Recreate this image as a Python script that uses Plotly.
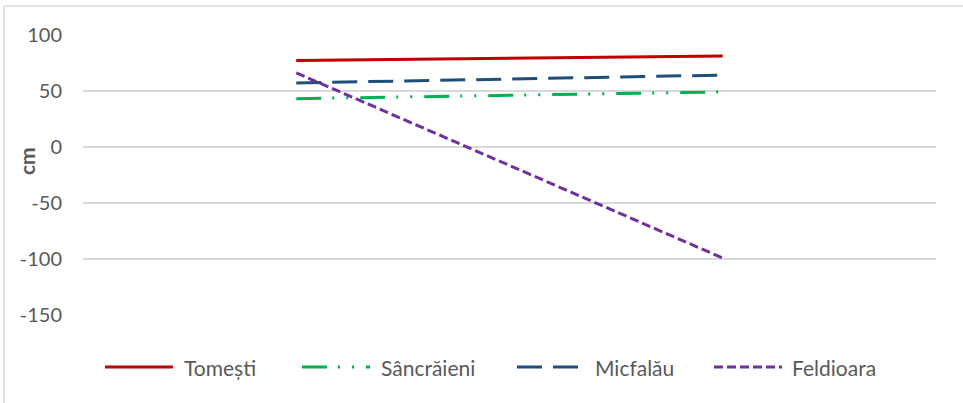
import plotly.graph_objects as go

# Two measurement dates on the category axis (labels not shown)
periods = ["start", "end"]

# Level change per site, in cm
tomesti = [77, 81]
sancraieni = [43, 49]
micfalau = [57, 64]
feldioara = [66, -99]

series_names = ["Tomești", "Sâncrăieni", "Micfalău", "Feldioara"]
series_values = [tomesti, sancraieni, micfalau, feldioara]
series_colors = ["#C00000", "#00B050", "#1F4E79", "#7030A0"]
series_dashes = [
    "solid",
    "25px,11px,2px,12px,2px,12px",
    "25px,11px",
    "9px,4px",
]

y_ticks = [100, 50, 0, -50, -100, -150]

W, H = 963, 403
M_L, M_R, M_T, M_B = 83, 27, 34, 87
PLOT_W = W - M_L - M_R
PLOT_H = H - M_T - M_B
TEXT_GREY = "#595959"
FONT = "Lato"


def px_to_paper_x(px):
    return (px - M_L) / PLOT_W


def px_to_paper_y(py):
    return (H - M_B - py) / PLOT_H


fig = go.Figure()
for name, vals, color, dash in zip(series_names, series_values, series_colors, series_dashes):
    fig.add_trace(
        go.Scatter(
            x=periods,
            y=vals,
            name=name,
            mode="lines",
            line=dict(color=color, width=3, dash=dash),
            showlegend=False,
            hoverinfo="name+y",
        )
    )

# Legend drawn along the bottom: sample line + label for each series
legend_line_x = [105, 302, 517, 714]
legend_text_x = [182, 379, 593, 790]
legend_line_len = 68
legend_y = 367
shapes = []
annotations = []
for name, color, dash, lx, tx in zip(series_names, series_colors, series_dashes, legend_line_x, legend_text_x):
    shapes.append(
        dict(
            type="line",
            xref="paper",
            yref="paper",
            x0=px_to_paper_x(lx),
            x1=px_to_paper_x(lx + legend_line_len),
            y0=px_to_paper_y(legend_y),
            y1=px_to_paper_y(legend_y),
            line=dict(color=color, width=3, dash=dash),
        )
    )
    annotations.append(
        dict(
            text=name,
            xref="paper",
            yref="paper",
            x=px_to_paper_x(tx),
            y=px_to_paper_y(legend_y),
            xanchor="left",
            yanchor="middle",
            showarrow=False,
            font=dict(family=FONT, size=21, color=TEXT_GREY),
        )
    )

# Chart frame (left and top edges)
frame_color = "#D9D9D9"
shapes.append(
    dict(type="line", xref="paper", yref="paper",
         x0=px_to_paper_x(4), x1=px_to_paper_x(4),
         y0=px_to_paper_y(6), y1=px_to_paper_y(H + 2),
         line=dict(color=frame_color, width=1.5))
)
shapes.append(
    dict(type="line", xref="paper", yref="paper",
         x0=px_to_paper_x(4), x1=px_to_paper_x(W + 2),
         y0=px_to_paper_y(6), y1=px_to_paper_y(6),
         line=dict(color=frame_color, width=1.5))
)

# Axis title
annotations.append(
    dict(
        text="<b>cm</b>",
        xref="paper",
        yref="paper",
        x=px_to_paper_x(26),
        y=px_to_paper_y(161),
        xanchor="center",
        yanchor="middle",
        textangle=-90,
        showarrow=False,
        font=dict(family=FONT, size=21, color=TEXT_GREY),
    )
)

fig.update_layout(
    width=W,
    height=H,
    autosize=False,
    margin=dict(l=M_L, r=M_R, t=M_T, b=M_B, pad=0),
    paper_bgcolor="white",
    plot_bgcolor="white",
    shapes=shapes,
    annotations=annotations,
    showlegend=False,
    xaxis=dict(
        type="category",
        range=[-0.5, 1.5],
        showticklabels=False,
        showgrid=False,
        zeroline=False,
        showline=False,
        ticks="",
        fixedrange=True,
    ),
    yaxis=dict(
        range=[-150.6, 100.6],
        tickvals=y_ticks,
        ticktext=[str(v) for v in y_ticks],
        showgrid=True,
        gridcolor="#D9D9D9",
        gridwidth=1.5,
        zeroline=False,
        showline=False,
        ticks="",
        ticklabelstandoff=20,
        tickfont=dict(family=FONT, size=20, color=TEXT_GREY),
        fixedrange=True,
    ),
)

fig.write_html("out.html")
